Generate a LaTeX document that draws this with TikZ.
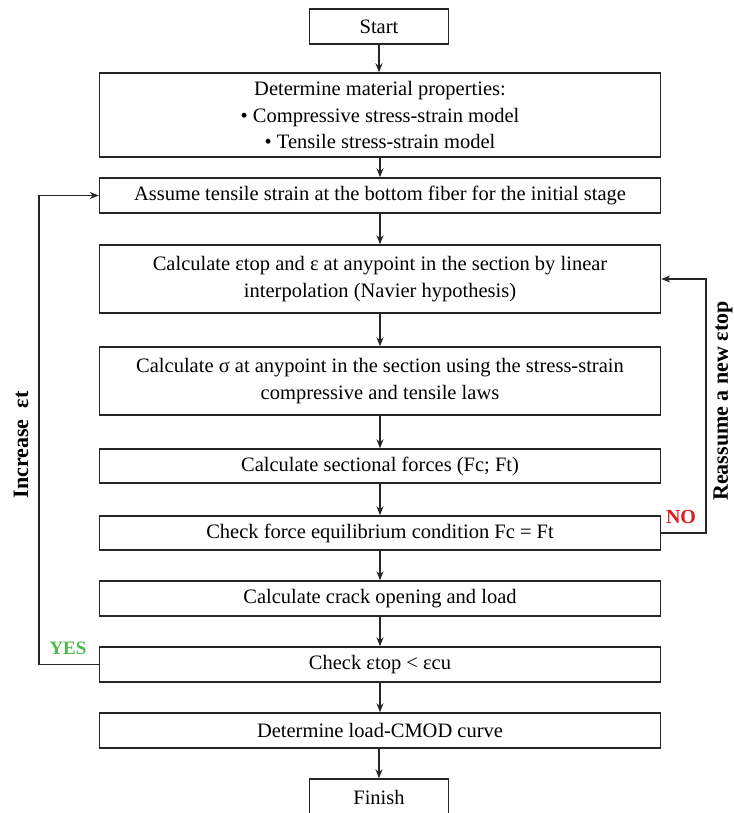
\documentclass[tikz,border=0pt]{standalone}
\usepackage{fontspec}
\setmainfont{Liberation Serif}
\usetikzlibrary{arrows.meta}
\definecolor{noRed}{HTML}{E3161C}
\definecolor{yesGreen}{HTML}{4CBB4C}
\begin{document}
\begin{tikzpicture}[x=1pt,y=-1pt,
  box/.style={draw=black!85, line width=1.4pt, rectangle, align=center, inner sep=0pt,
    minimum width=561pt, font=\fontsize{20.5}{26.5}\selectfont},
  endbox/.style={box, minimum width=139pt, minimum height=35pt},
  arr/.style={draw=black!85, line width=1.4pt, -{Stealth[length=9pt,width=7pt]}},
  loop/.style={draw=black!85, line width=1.4pt, -{Stealth[length=9pt,width=7pt]}},
  side/.style={font=\fontsize{22}{24}\selectfont\bfseries, rotate=90}]
\useasboundingbox (0,0) rectangle (733,813);
\node[endbox] (start) at (379,26.5) {Start};
\node[box, minimum height=84pt] (mat) at (380,115) {Determine material properties:\\ \textbullet\ Compressive stress-strain model\\ \textbullet\ Tensile stress-strain model};
\node[box, minimum height=35pt] (assume) at (380,195.5) {Assume tensile strain at the bottom fiber for the initial stage};
\node[box, minimum height=68pt] (calc1) at (380,279) {Calculate εtop and ε at anypoint in the section by linear\\ interpolation (Navier hypothesis)};
\node[box, minimum height=68pt] (calc2) at (380,381) {Calculate σ at anypoint in the section using the stress-strain\\ compressive and tensile laws};
\node[box, minimum height=34pt] (forces) at (380,466) {Calculate sectional forces (Fc; Ft)};
\node[box, minimum height=34pt] (equil) at (380,533) {Check force equilibrium condition Fc = Ft};
\node[box, minimum height=35pt] (crack) at (380,598.5) {Calculate crack opening and load};
\node[box, minimum height=35pt] (check) at (380,664.5) {Check εtop < εcu};
\node[box, minimum height=35pt] (curve) at (380,730.5) {Determine load-CMOD curve};
\node[endbox, minimum height=36pt] (finish) at (379,797) {Finish};
\draw[arr] (start) -- (start |- mat.north);
\draw[arr] (mat) -- (assume);
\draw[arr] (assume) -- (calc1);
\draw[arr] (calc1) -- (calc2);
\draw[arr] (calc2) -- (forces);
\draw[arr] (forces) -- (equil);
\draw[arr] (equil) -- (crack);
\draw[arr] (crack) -- (check);
\draw[arr] (check) -- (curve);
\draw[arr] (curve.south -| finish) -- (finish);
\coordinate (rx) at (706,0);
\coordinate (lx) at (39,0);
\draw[loop] (equil.east) -- (equil.east -| rx) -- (calc1.east -| rx) -- (calc1.east);
\draw[loop] (check.west) -- (check.west -| lx) -- (assume.west -| lx) -- (assume.west);
\node[text=noRed, font=\fontsize{20}{22}\selectfont\bfseries] (no) at (681,517) {NO};
\node[text=yesGreen, font=\fontsize{19}{22}\selectfont\bfseries] (yes) at (68,648) {YES};
\node[side] (inc) at (21,445) {Increase\ \ εt};
\node[side] (reas) at (723,401) {Reassume a new εtop};
\end{tikzpicture}
\end{document}
